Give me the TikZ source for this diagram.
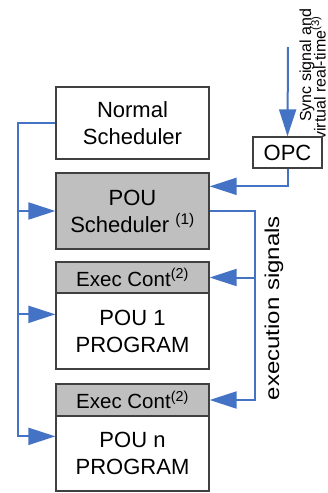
\documentclass[tikz,border=0pt]{standalone}
\usepackage{fontspec}
\usepackage{graphicx}
\setmainfont{Liberation Sans}
\usetikzlibrary{arrows.meta,calc}
\definecolor{arrowblue}{HTML}{4472C4}
\definecolor{boxgrey}{HTML}{BFBFBF}
\definecolor{boxline}{HTML}{404040}
\begin{document}
\begin{tikzpicture}[x=1pt,y=-1pt,
  box/.style={draw=boxline, line width=1.3pt, fill=white, minimum width=153pt, inner sep=0pt, align=center, font=\fontsize{22}{27}\selectfont},
  shaded/.style={box, fill=boxgrey},
  hdr/.style={shaded, font=\fontsize{20.5}{24}\selectfont},
  conn/.style={draw=arrowblue, line width=2pt},
  tip/.style={-{Triangle[length=27pt,width=17pt]}},
  lbl/.style={inner sep=0pt, rotate=90}]
\useasboundingbox (0,0) rectangle (328,493);
% rotated labels first (OPC box covers part of line 2)
\node[lbl, anchor=base west, font=\fontsize{16}{16}\selectfont] (sync1) at (311,122) {Sync signal and};
\node[lbl, anchor=base west, font=\fontsize{16}{16}\selectfont] (sync2) at (325.5,140) {virtual real-time\textsuperscript{(3)}};
\node[lbl, font=\fontsize{20}{20}\selectfont] (execlbl) at (274,308) {\scalebox{1.2}[1]{execution signals}};
% boxes
\node[box, minimum height=72pt] (normal) at (132.5,123) {Normal\\Scheduler};
\node[shaded, minimum height=76pt] (sched) at (132.5,211) {POU\\Scheduler \textsuperscript{(1)}};
\node[hdr, minimum height=31pt] (ec1) at (132.5,277.5) {Exec Cont\textsuperscript{(2)}};
\node[box, minimum height=76pt] (p1) at (132.5,331) {POU 1\\PROGRAM};
\node[hdr, minimum height=32pt] (ec2) at (132.5,400) {Exec Cont\textsuperscript{(2)}};
\node[box, minimum height=75pt] (pn) at (132.5,453.5) {POU n\\PROGRAM};
\node[box, minimum width=69pt, minimum height=31pt] (opc) at (287.5,152.5) {OPC};
% coordinates
\coordinate (lbus) at (18,123);
\coordinate (rbus) at (255,211);
\coordinate (synctop) at (288,47);
\coordinate (schedin) at ($(sched.north east)+(0,14)$);
\coordinate (p1in) at ($(p1.north west)+(0,22)$);
\coordinate (pnin) at ($(pn.north west)+(0,21)$);
% connectors
\draw[conn,tip] (normal.west) -- (lbus) |- (pnin);
\draw[conn,tip] (lbus |- sched.west) -- (sched.west);
\draw[conn,tip] (lbus |- p1in) -- (p1in);
\draw[conn,tip] (synctop) -- (opc.north);
\draw[conn,tip] (opc.south) |- (schedin);
\draw[conn,tip] (sched.east) -- (rbus) |- (ec2.east);
\draw[conn,tip] (rbus |- ec1.east) -- (ec1.east);
\end{tikzpicture}
\end{document}
